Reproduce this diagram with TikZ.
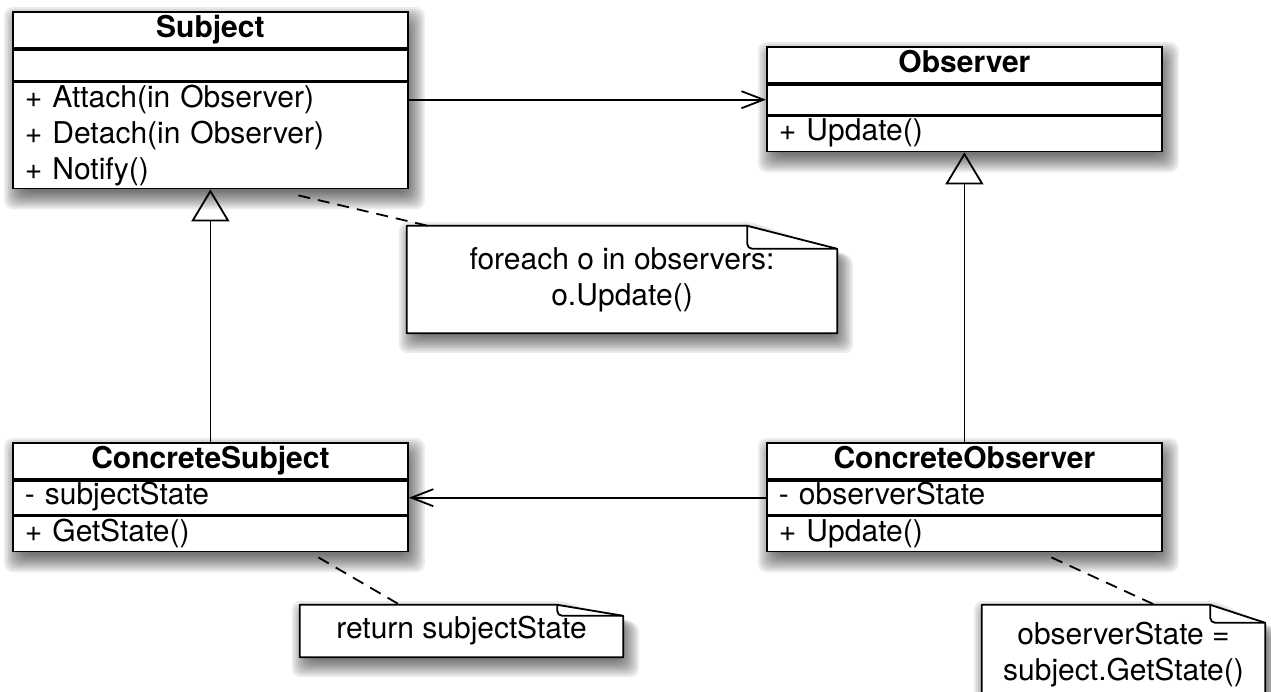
\documentclass[tikz,border=0pt]{standalone}
\usepackage{fontspec}
\setmainfont{TeX Gyre Heros}
\usepackage{tikz}
\usetikzlibrary{arrows.meta,positioning,backgrounds}
\newcommand\umlfont{\fontsize{30}{36}\selectfont}
\newcommand\umlstrut{\rule[-8pt]{0pt}{30pt}}
\tikzstyle{umlpart} = [rectangle, draw=black, fill=white, line width=1.8pt, inner xsep=12pt, inner ysep=0pt, text width=371pt, minimum height=35pt, align=left, font=\umlfont, execute at begin node=\umlstrut]
\tikzstyle{umlhead} = [umlpart, align=center, minimum height=36pt, font=\umlfont\bfseries]
\tikzstyle{notetext} = [rectangle, inner sep=0pt, align=center, font=\umlfont]
\tikzstyle{shadelayer} = [black, opacity=0.075, rounded corners=9pt]
\tikzstyle{assoc} = [line width=1.8pt, -{Straight Barb[length=22pt, width=17pt]}]
\tikzstyle{inherit} = [line width=1.8pt, -{Triangle[open, length=32pt, width=38pt]}]
\tikzstyle{dashline} = [line width=1.8pt, dash pattern=on 12pt off 8pt]

% soft drop shadow behind a class box, built from stacked translucent layers
\newcommand{\dropshade}[2]{%
  \foreach \s in {-6,-4,...,12}
    \fill[shadelayer] ([xshift={(4-\s)*1pt}, yshift={(-8+\s)*1pt}]#1)
      rectangle ([xshift={(4+\s)*1pt}, yshift={(-8-\s)*1pt}]#2);}

% note with a folded top right corner
\newcommand{\notebox}[3]{%
  \begin{scope}[on background layer]
    \foreach \s in {-6,-4,...,12}
      \fill[shadelayer] ([xshift={(4-\s)*1pt}, yshift={(-8+\s)*1pt}]#1.north west)
        -- ([xshift={-#2+4pt}, yshift={(-8+\s)*1pt}]#1.north east)
        -- ([xshift={(4+\s)*1pt}, yshift={-#3-8pt}]#1.north east)
        -- ([xshift={(4+\s)*1pt}, yshift={(-8-\s)*1pt}]#1.south east)
        -- ([xshift={(4-\s)*1pt}, yshift={(-8-\s)*1pt}]#1.south west) -- cycle;
    \draw[line width=1.8pt, line join=round, fill=white] (#1.north west) -- ([xshift=-#2]#1.north east)
      -- ([yshift=-#3]#1.north east) -- (#1.south east) -- (#1.south west) -- cycle;
    \draw[line width=1.8pt, rounded corners=5pt] ([xshift=-#2]#1.north east)
      -- ([xshift=-#2, yshift=-#3]#1.north east) -- ([xshift=-1pt, yshift=-#3]#1.north east);
  \end{scope}}

\begin{document}
\begin{tikzpicture}[x=1pt, y=-1pt]
		\useasboundingbox (0,0) rectangle (1271,692);

		% classes
		\node[umlhead, anchor=north west] (subj) at (12,11) {Subject};
		\node[umlpart, below=0pt of subj, minimum height=31pt] (subj-a) {};
		\node[umlpart, below=0pt of subj-a, minimum height=106pt] (subj-m) {+ Attach(in Observer)\\+ Detach(in Observer)\\+ Notify()};

		\node[umlhead, anchor=north west] (obs) at (766,46) {Observer};
		\node[umlpart, below=0pt of obs, minimum height=30pt] (obs-a) {};
		\node[umlpart, below=0pt of obs-a] (obs-m) {+ Update()};

		\node[umlhead, anchor=north west] (csub) at (12,442) {ConcreteSubject};
		\node[umlpart, below=0pt of csub, minimum height=34pt] (csub-a) {- subjectState};
		\node[umlpart, below=0pt of csub-a] (csub-m) {+ GetState()};

		\node[umlhead, anchor=north west] (cobs) at (766,442) {ConcreteObserver};
		\node[umlpart, below=0pt of cobs, minimum height=34pt] (cobs-a) {- observerState};
		\node[umlpart, below=0pt of cobs-a] (cobs-m) {+ Update()};

		\begin{scope}[on background layer]
			\dropshade{subj.north west}{subj-m.south east}
			\dropshade{obs.north west}{obs-m.south east}
			\dropshade{csub.north west}{csub-m.south east}
			\dropshade{cobs.north west}{cobs-m.south east}
		\end{scope}

		% notes
		\node[notetext, minimum width=430pt, minimum height=107pt] (note1) at (622,279.5) {foreach o in observers:\\o.Update()};
		\node[notetext, minimum width=323pt, minimum height=52pt] (note2) at (461.5,631) {return subjectState};
		\node[notetext, minimum width=283pt, minimum height=88pt] (note3) at (1123.5,649) {\rule{0pt}{33pt}observerState =\\subject.GetState()};
		\notebox{note1}{90pt}{23pt}
		\notebox{note2}{66pt}{11pt}
		\notebox{note3}{55pt}{18pt}

		% relations
		\draw[assoc] (subj-m.east |- obs-a.west) -- (obs-a.west);
		\draw[assoc] (cobs-a.west) -- (csub-a.east);
		\draw[inherit] (csub.north) -- (subj-m.south);
		\draw[inherit] (cobs.north) -- (obs-m.south);

		\draw[dashline] ([xshift=88pt, yshift=-6pt]subj-m.south) -- ([xshift=21pt]note1.north west);
		\draw[dashline] ([xshift=108pt, yshift=-5pt]csub-m.south) -- ([xshift=100pt]note2.north west);
		\draw[dashline] ([xshift=87pt, yshift=-5pt]cobs-m.south) -- ([xshift=173pt]note3.north west);
	\end{tikzpicture}
\end{document}
